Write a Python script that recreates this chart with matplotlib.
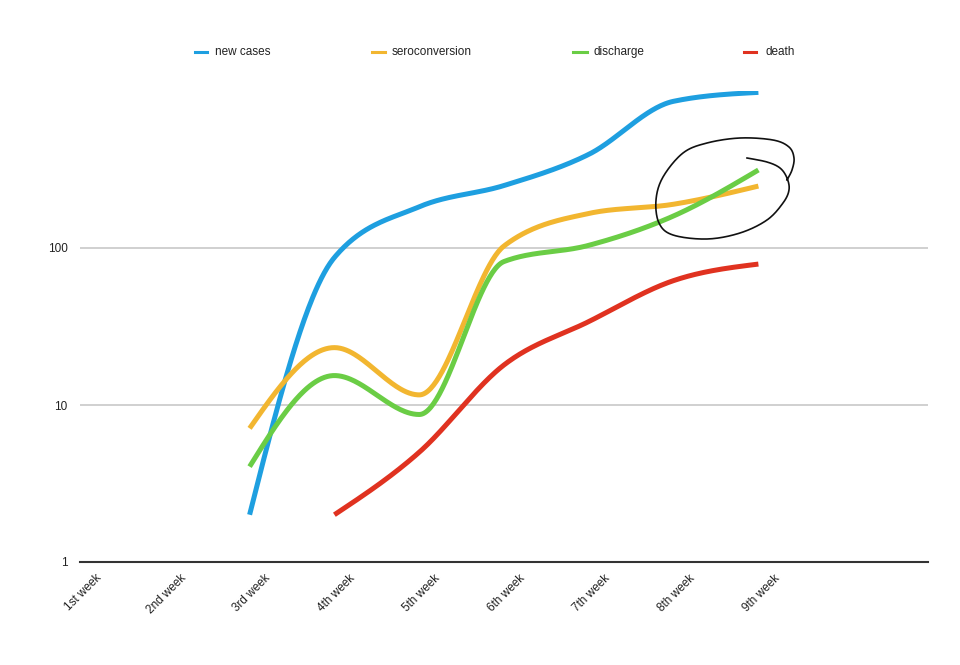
import numpy as np
import matplotlib
matplotlib.use("Agg")
import matplotlib.pyplot as plt

plt.rcParams['font.family'] = ['Liberation Sans', 'DejaVu Sans']

weeks = ["1st week", "2nd week", "3rd week", "4th week", "5th week",
         "6th week", "7th week", "8th week", "9th week"]
new_cases = [None, None, 2, 87, 183, 250, 395, 860, 980]
seroconversion = [None, None, 7.1, 23.2, 11.6, 103, 166, 190, 248]
discharge = [None, None, 4.05, 15.4, 8.7, 82, 104, 160, 314]
death = [None, None, None, 2, 5.0, 18, 34, 62, 79]

series_names = ["new cases", "seroconversion", "discharge", "death"]
series_values = [new_cases, seroconversion, discharge, death]
colors = ["#1E9FE0", "#F2B630", "#6ACD45", "#E03220"]


def steffen(xs, ys, n=60):
    xs = np.asarray(xs, float)
    ys = np.asarray(ys, float)
    h = np.diff(xs)
    d = np.diff(ys) / h
    m = np.zeros_like(ys)
    for k in range(1, len(ys) - 1):
        s0, s1 = d[k - 1], d[k]
        p = (s0 * h[k] + s1 * h[k - 1]) / (h[k - 1] + h[k])
        m[k] = (np.sign(s0) + np.sign(s1)) * min(abs(s0), abs(s1), 0.5 * abs(p))
    m[0] = (3 * d[0] - m[1]) / 2
    m[-1] = (3 * d[-1] - m[-2]) / 2
    outx, outy = [], []
    for i in range(len(xs) - 1):
        t = np.linspace(0, 1, n)
        h00 = 2 * t**3 - 3 * t**2 + 1
        h10 = t**3 - 2 * t**2 + t
        h01 = -2 * t**3 + 3 * t**2
        h11 = t**3 - t**2
        outx.append(xs[i] + t * h[i])
        outy.append(h00 * ys[i] + h10 * h[i] * m[i] + h01 * ys[i + 1] + h11 * h[i] * m[i + 1])
    return np.concatenate(outx), np.concatenate(outy)


def catmull_rom(xs, ys, n=40):
    xs = np.asarray(xs, float)
    ys = np.asarray(ys, float)
    px = np.concatenate([[xs[0]], xs, [xs[-1]]])
    py = np.concatenate([[ys[0]], ys, [ys[-1]]])
    outx, outy = [], []
    for i in range(1, len(px) - 2):
        t = np.linspace(0, 1, n)
        x0, x1, x2, x3 = px[i - 1], px[i], px[i + 1], px[i + 2]
        y0, y1, y2, y3 = py[i - 1], py[i], py[i + 1], py[i + 2]
        m1x, m2x = (x2 - x0) / 2, (x3 - x1) / 2
        m1y, m2y = (y2 - y0) / 2, (y3 - y1) / 2
        h00 = 2 * t**3 - 3 * t**2 + 1
        h10 = t**3 - 2 * t**2 + t
        h01 = -2 * t**3 + 3 * t**2
        h11 = t**3 - t**2
        outx.append(h00 * x1 + h10 * m1x + h01 * x2 + h11 * m2x)
        outy.append(h00 * y1 + h10 * m1y + h01 * y2 + h11 * m2y)
    return np.concatenate(outx), np.concatenate(outy)


fig = plt.figure(figsize=(9.6, 6.65), dpi=100)
W, H = 960, 665
ax = fig.add_axes([80 / W, (H - 562) / H, (928 - 80) / W, (562 - 91) / H])
ax.set_yscale('log')
ax.set_ylim(1, 1000)
ax.set_xlim(0, 10)

for name, vals, c in zip(series_names, series_values, colors):
    idx = [i for i, v in enumerate(vals) if v is not None]
    ly = [np.log10(vals[i]) for i in idx]
    sx, sy = steffen(idx, ly)
    ax.plot(sx, 10 ** sy, color=c, lw=3.6, solid_capstyle='butt', zorder=3)

# grid lines
for g in [10, 100]:
    ax.axhline(g, color='#C4C4C4', lw=1.1, zorder=1)
ax.axhline(1, color='#333333', lw=1.5, zorder=4, clip_on=False)

for s in ax.spines.values():
    s.set_visible(False)
ax.set_yticks([1, 10, 100])
ax.set_yticklabels(["1", "10", "100"])
ax.yaxis.set_minor_locator(matplotlib.ticker.NullLocator())
ax.tick_params(axis='y', length=0, pad=9, labelsize=8.5, labelcolor='#222222')
ax.set_xticks(range(len(weeks)))
ax.set_xticklabels([])
ax.tick_params(axis='x', length=0)

for i, w in enumerate(weeks):
    ax.annotate(w, xy=(i, 1), xycoords='data', xytext=(15, -10),
                textcoords='offset pixels', rotation=45, ha='right', va='top',
                rotation_mode='anchor', fontsize=8.5, color='#222222')

# legend (manual)
leg = [(195, 207, 215), (372, 385, 392), (573, 587, 593), (744, 756, 765)]
for (m0, m1, tx), name, c in zip(leg, series_names, colors):
    fig.add_artist(plt.Line2D([m0 / W, m1 / W], [(H - 52) / H] * 2,
                              color=c, lw=2.2, transform=fig.transFigure))
    fig.text(tx / W, (H - 52) / H, name, fontsize=8.5, va='center', ha='left',
             color='#222222')

# hand-drawn loop annotation
loop_px = [(747, 158), (767, 162), (780, 168), (787, 178), (789, 190), (783, 203),
           (767, 220), (740, 233), (707, 239), (673, 235), (659, 223), (656, 200),
           (663, 177), (683, 153), (707, 143), (740, 138), (773, 140), (789, 147),
           (794, 158), (792, 170), (787, 180)]
lx, ly = catmull_rom([p[0] for p in loop_px], [p[1] for p in loop_px], n=20)
fig.add_artist(plt.Line2D(lx / W, (H - ly) / H, color='#111111', lw=1.2,
                          transform=fig.transFigure, zorder=10))

fig.savefig("out.png", dpi=100, facecolor='white')
